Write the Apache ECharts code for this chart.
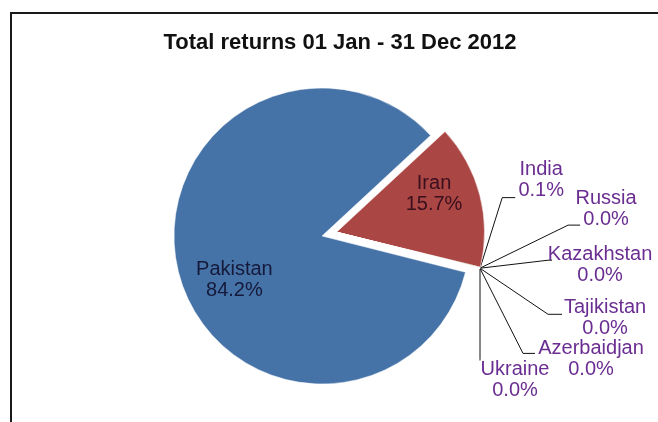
<!DOCTYPE html>
<html>
<head>
<meta charset="utf-8">
<script src="https://cdn.jsdelivr.net/npm/echarts@6/dist/echarts.min.js"></script>
<style>
  html, body { margin: 0; padding: 0; background: #fff; }
  #frame { position: absolute; left: 10px; top: 12px; width: 660px; height: 420px;
           border-top: 2px solid #1a1a1a; border-left: 2px solid #1a1a1a; box-sizing: border-box; }
  #chart { position: absolute; left: 0; top: 0; width: 658px; height: 422px; }
</style>
</head>
<body>
<div id="frame"></div>
<div id="chart"></div>
<script>
// ---- data ----
const titleText = 'Total returns 01 Jan - 31 Dec 2012';
const categories = ['Pakistan', 'Iran', 'India', 'Russia', 'Kazakhstan', 'Tajikistan', 'Azerbaidjan', 'Ukraine'];
const shares = [84.2, 15.7, 0.1, 0.01, 0.01, 0.01, 0.01, 0.01];
const explodedSlices = ['Iran', 'India', 'Russia', 'Kazakhstan', 'Tajikistan', 'Azerbaidjan', 'Ukraine'];

// ---- style / layout ----
const sliceColors = ['#4572A7', '#AA4643', '#89A54E', '#71588F', '#4198AF', '#DB843D', '#93A9CF', '#D19392'];
const insideLabelColors = { Pakistan: '#15193a', Iran: '#3a0f1e' };
const calloutColor = '#6a2d91';
const insideShift = { Pakistan: [-13, 25], Iran: [23, -19] };
const pieCenter = [322, 236];
const pieRadius = 148;
const startAngle = -14.2;
const explodeOffset = 15;
// callout geometry relative to the leader-line anchor: bend point, end point, label centre
const callout = {
  India:       { bend: [22, -70], end: [35, -70], label: [61, -88] },
  Russia:      { bend: [88, -43], end: [100, -43], label: [126, -59] },
  Kazakhstan:  { bend: [68, -8],  end: [72, -8],  label: [120, -3] },
  Tajikistan:  { bend: [68, 46],  end: [82, 46],  label: [125, 50] },
  Azerbaidjan: { bend: [43, 85],  end: [55, 85],  label: [111, 91] },
  Ukraine:     { bend: [0, 91],   end: [0, 92],   label: [35, 112] }
};
const fontFamily = 'Liberation Sans, Arial, sans-serif';

// explode direction: bisector of the first exploded slice (Iran), from the library's angle convention
const total = shares.reduce((s, v) => s + v, 0);
const iranIdx = categories.indexOf('Iran');
const before = shares.slice(0, iranIdx).reduce((s, v) => s + v, 0);
const iranMid = (startAngle - (before + shares[iranIdx] / 2) / total * 360) * Math.PI / 180;
const explodedCenter = [pieCenter[0] + Math.cos(iranMid) * explodeOffset,
                        pieCenter[1] - Math.sin(iranMid) * explodeOffset];

function buildData(showExploded) {
  return categories.map((name, i) => {
    const visible = (explodedSlices.indexOf(name) >= 0) === showExploded;
    const inside = insideShift[name] !== undefined;
    if (!visible) {
      return {
        name: name, value: shares[i],
        itemStyle: { color: 'rgba(0,0,0,0)', borderWidth: 0 },
        label: { show: false }, labelLine: { show: false }
      };
    }
    return {
      name: name,
      value: shares[i],
      itemStyle: { color: sliceColors[i] },
      label: inside
        ? { show: true, position: 'inside', color: insideLabelColors[name] }
        : { show: true, position: 'outside', color: calloutColor },
      labelLine: { show: !inside }
    };
  });
}

function layoutLabel(p) {
  const name = categories[p.dataIndex];
  const r = p.labelRect;
  if (insideShift[name]) {
    const s = insideShift[name];
    return { x: r.x + r.width / 2 + s[0], y: r.y + r.height / 2 + s[1], align: 'center', verticalAlign: 'middle' };
  }
  const c = callout[name];
  const pts = p.labelLinePoints;
  if (!c || !pts) return {};
  const a = pts[0];
  return {
    x: a[0] + c.label[0],
    y: a[1] + c.label[1],
    align: 'center',
    verticalAlign: 'middle',
    labelLinePoints: [
      [a[0], a[1]],
      [a[0] + c.bend[0], a[1] + c.bend[1]],
      [a[0] + c.end[0], a[1] + c.end[1]]
    ]
  };
}

const pieBase = {
  type: 'pie',
  radius: [0, pieRadius],
  startAngle: startAngle,
  clockwise: true,
  avoidLabelOverlap: false,
  percentPrecision: 1,
  emphasis: { disabled: true },
  itemStyle: { borderColor: '#ffffff', borderWidth: 0.5 },
  label: {
    fontFamily: fontFamily,
    fontSize: 20,
    lineHeight: 21,
    align: 'center',
    formatter: p => p.name + '\n' + p.percent.toFixed(1) + '%'
  },
  labelLine: { length: 10, length2: 10, lineStyle: { color: '#111', width: 1 } },
  labelLayout: layoutLabel
};

const chart = echarts.init(document.getElementById('chart'), null, { renderer: 'canvas' });
chart.setOption({
  animation: false,
  title: {
    text: titleText,
    left: 335,
    textAlign: 'center',
    top: 27,
    textStyle: { fontFamily: fontFamily, fontSize: 22, fontWeight: 'bold', color: '#111' }
  },
  series: [
    Object.assign({}, pieBase, { name: 'main', center: pieCenter, data: buildData(false) }),
    Object.assign({}, pieBase, { name: 'exploded', center: explodedCenter, data: buildData(true) })
  ]
});
</script>
</body>
</html>
